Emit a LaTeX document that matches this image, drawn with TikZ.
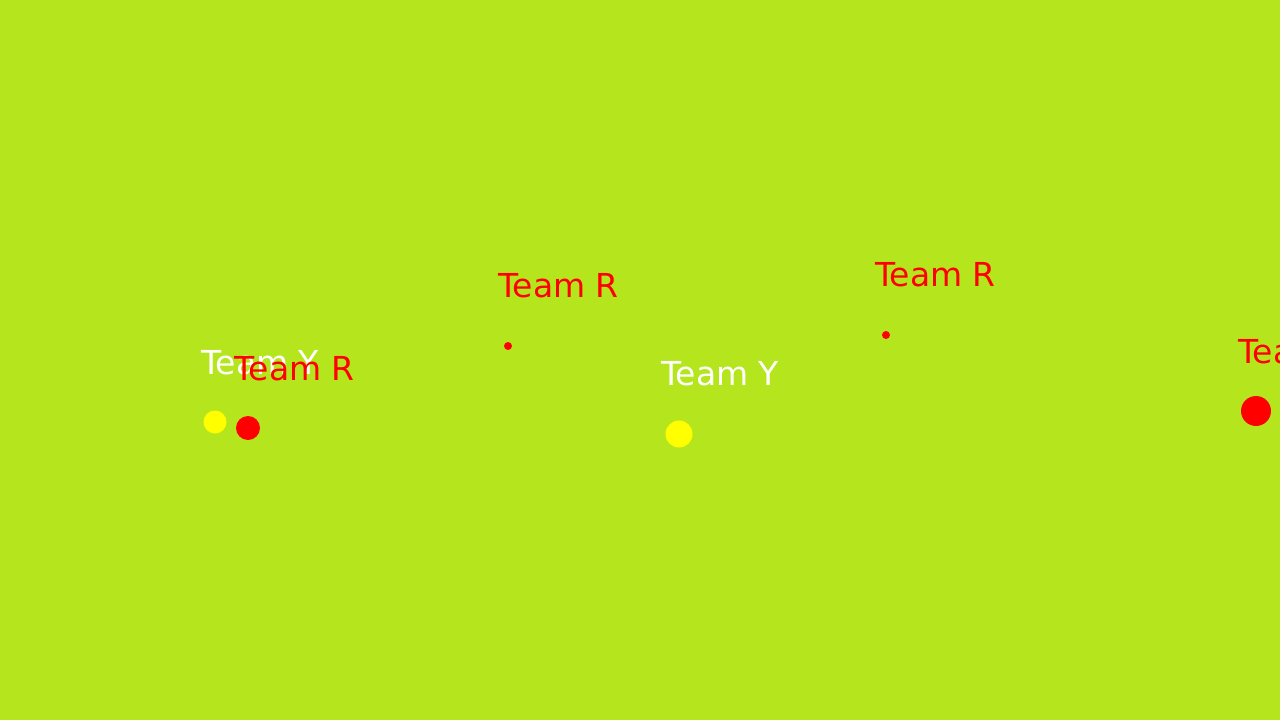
\documentclass[tikz,border=0pt]{standalone}
\usepackage{fontspec}
\setmainfont{DejaVu Sans}
\definecolor{bg}{RGB}{181,230,29}
\definecolor{teamr}{RGB}{255,0,0}
\definecolor{teamy}{RGB}{255,255,0}
\begin{document}
\begin{tikzpicture}[x=1pt,y=-1pt,
  dot/.style={circle,inner sep=0pt,outer sep=0pt},
  rdot/.style={dot,fill=teamr},
  ydot/.style={dot,fill=teamy},
  lbl/.style={anchor=base west,inner sep=0pt,font=\fontsize{33}{36}\selectfont},
  rlbl/.style={lbl,text=teamr},
  ylbl/.style={lbl,text=white}]
\clip (0,0) rectangle (1280,720);
\fill[bg] (0,0) rectangle (1280,720);
% dots
\node[ydot,minimum size=23pt] (y1) at (215,422) {};
\node[rdot,minimum size=24pt] (r1) at (248,428) {};
\node[rdot,minimum size=8pt] (r2) at (508,346) {};
\node[ydot,minimum size=27pt] (y2) at (679,434) {};
\node[rdot,minimum size=8pt] (r3) at (886,335) {};
\node[rdot,minimum size=30pt] (r4) at (1256,411) {};
% labels
\node[ylbl] (ly1) at (201,374) {Team Y};
\node[rlbl] (lr1) at (234,380) {Team R};
\node[rlbl] (lr2) at (498,297) {Team R};
\node[ylbl] (ly2) at (661,385) {Team Y};
\node[rlbl] (lr3) at (875,286) {Team R};
\node[rlbl] (lr4) at (1238,363) {Team R};
\end{tikzpicture}
\end{document}
